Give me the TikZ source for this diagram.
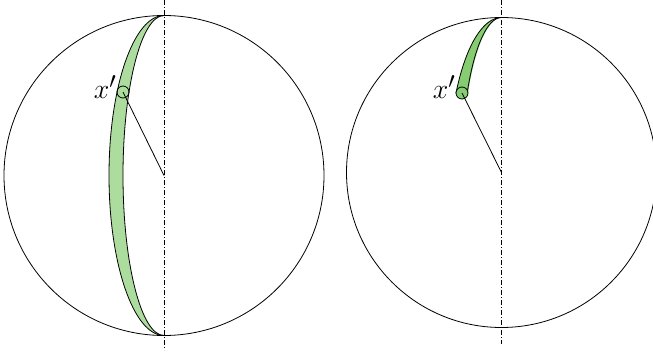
\documentclass[tikz,border=0pt]{standalone}
\usepackage{tikz}
\usetikzlibrary{positioning}
\definecolor{lunelight}{RGB}{172,220,158}
\definecolor{lunedark}{RGB}{134,204,112}
\tikzset{
  axis/.style={line width=0.6pt,dash pattern=on 5pt off 2pt on 1pt off 2pt},
}

\begin{document}
\begin{tikzpicture}[x=1pt,y=1pt,line width=0.8pt,
   pt/.style={circle,draw,inner sep=0pt,minimum size=12pt},
   lbl/.style={font=\Huge,scale=1.12,transform shape,inner sep=1pt}]
\useasboundingbox (0,0) rectangle (653,354);
% ganze Luene
\begin{scope}
  \coordinate (c1) at (164,178.5);
  \fill[lunelight] (164,338.5) arc[start angle=90,end angle=270,x radius=55,y radius=160]
     arc[start angle=270,end angle=90,x radius=41,y radius=160];
  \draw (164,338.5) arc[start angle=90,end angle=270,x radius=55,y radius=160];
  \draw (164,338.5) arc[start angle=90,end angle=270,x radius=41,y radius=160];
  \draw (c1) circle[radius=160];
  \draw[axis] (164,354) -- (164,4);
  \node[pt] (x1) at (123,262) {};
  \node[lbl,anchor=east] (l1) at (118,267) {$x'$};
  \draw (c1) -- (x1.center);
\end{scope}
% Stueck bis x'
\begin{scope}
  \coordinate (c2) at (501.5,181.5);
  \fill[lunedark] (501.5,336.5) arc[start angle=90,end angle=149.15,x radius=53,y radius=155]
     -- (468,261) arc[start angle=149.15,end angle=90,x radius=40,y radius=155];
  \draw (501.5,336.5) arc[start angle=90,end angle=149.15,x radius=53,y radius=155];
  \draw (501.5,336.5) arc[start angle=90,end angle=149.15,x radius=40,y radius=155];
  \draw (c2) circle[radius=155];
  \draw[axis] (501.5,354) -- (501.5,10);
  \node[pt,fill=lunedark] (x2) at (462,261) {};
  \node[lbl,anchor=east] (l2) at (457,267) {$x'$};
  \draw (c2) -- (x2.center);
\end{scope}
\end{tikzpicture}
\end{document}
